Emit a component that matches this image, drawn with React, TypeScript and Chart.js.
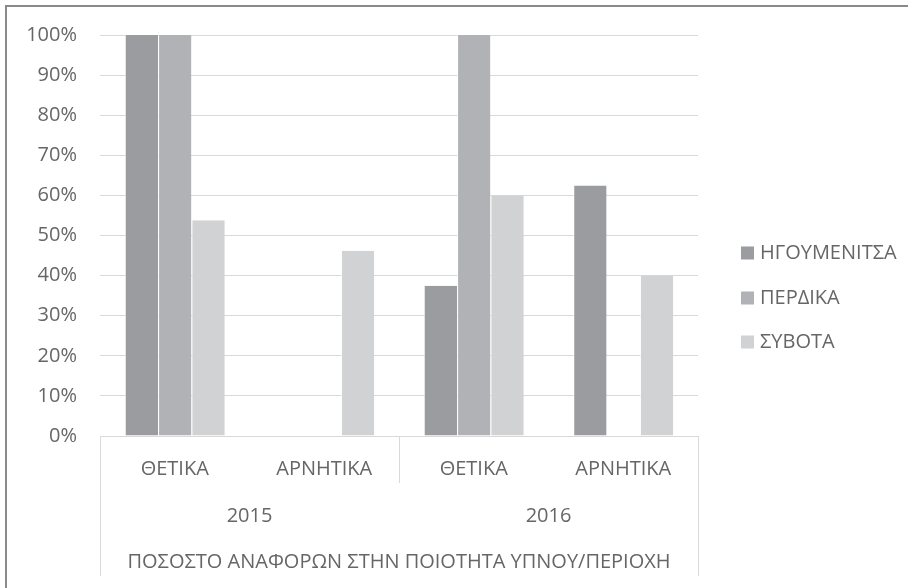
import React, { useEffect, useRef } from "react";
import { Chart, registerables } from "chart.js";

Chart.register(...registerables);

// Two-level category axis: answer type inside each year
const subCategories = ["ΘΕΤΙΚΑ", "ΑΡΝΗΤΙΚΑ", "ΘΕΤΙΚΑ", "ΑΡΝΗΤΙΚΑ"];
const years = ["2015", "2016"];
const axisTitle = "ΠΟΣΟΣΤΟ ΑΝΑΦΟΡΩΝ ΣΤΗΝ ΠΟΙΟΤΗΤΑ ΥΠΝΟΥ/ΠΕΡΙΟΧΗ";

const seriesNames = ["ΗΓΟΥΜΕΝΙΤΣΑ", "ΠΕΡΔΙΚΑ", "ΣΥΒΟΤΑ"];
const igoumenitsa = [100, 0, 37.5, 62.5];
const perdika = [100, 0, 100, 0];
const syvota = [53.8, 46.2, 60, 40];

const yTicks = [0, 10, 20, 30, 40, 50, 60, 70, 80, 90, 100];

const FONT = "'Open Sans', sans-serif";
const TEXT = "#666666";
const LINE = "#d9d9d9";
const COLORS = ["#9b9c9f", "#b1b2b5", "#d1d2d4"];

const multiLevelAxis = {
  id: "multiLevelAxis",
  afterDraw(chart: any) {
    const { ctx, chartArea, scales } = chart;
    const x = scales.x;
    const n = subCategories.length;
    const step = (x.getPixelForValue(n - 1) - x.getPixelForValue(0)) / (n - 1);
    const left = x.getPixelForValue(0) - step / 2;
    const right = x.getPixelForValue(n - 1) + step / 2;
    const base = chartArea.bottom;

    ctx.save();
    ctx.strokeStyle = LINE;
    ctx.lineWidth = 1;
    const vline = (px: number, y2: number) => {
      const xx = Math.round(px) + 0.5;
      ctx.beginPath();
      ctx.moveTo(xx, base);
      ctx.lineTo(xx, y2);
      ctx.stroke();
    };
    vline(left, 576);
    vline(right, 576);
    const perYear = n / years.length;
    for (let k = 1; k < years.length; k++) {
      vline(left + step * perYear * k, 483);
    }

    ctx.fillStyle = TEXT;
    ctx.font = `20px ${FONT}`;
    ctx.textAlign = "center";
    ctx.textBaseline = "middle";
    subCategories.forEach((label, i) => {
      ctx.fillText(label, x.getPixelForValue(i), 469);
    });
    years.forEach((yr, k) => {
      const c = left + step * perYear * (k + 0.5);
      ctx.fillText(yr, c, 516);
    });
    ctx.fillText(axisTitle, (left + right) / 2, 562);

    // outer chart frame
    ctx.strokeStyle = "#8a8a8a";
    ctx.lineWidth = 2;
    ctx.beginPath();
    ctx.moveTo(6, 600);
    ctx.lineTo(6, 6);
    ctx.lineTo(920, 6);
    ctx.stroke();

    // legend built from the datasets
    const ds = chart.data.datasets;
    const rows = [253, 298, 342];
    ds.forEach((d: any, i: number) => {
      const cy = rows[i];
      ctx.fillStyle = d.backgroundColor;
      ctx.fillRect(741, cy - 6.5, 13, 13);
      ctx.fillStyle = TEXT;
      ctx.textAlign = "left";
      ctx.fillText(d.label, 760, cy);
    });
    ctx.restore();
  },
};

export default function App() {
  const ref = useRef<HTMLCanvasElement | null>(null);

  useEffect(() => {
    if (!ref.current) return;
    const series = [igoumenitsa, perdika, syvota];
    const chart = new Chart(ref.current, {
      type: "bar",
      data: {
        labels: subCategories.map((s, i) => `${years[Math.floor(i / 2)]} ${s}`),
        datasets: series.map((vals, i) => ({
          label: seriesNames[i],
          data: vals,
          backgroundColor: COLORS[i],
          borderColor: "rgba(255,255,255,0.7)",
          borderWidth: { left: 1, right: 0, top: 0, bottom: 0 },
          borderSkipped: false,
          categoryPercentage: 0.669,
          barPercentage: 1,
        })),
      },
      options: {
        animation: false,
        responsive: true,
        maintainAspectRatio: false,
        layout: { padding: { left: 0, top: 35, right: 210, bottom: 152 } },
        plugins: {
          legend: { display: false },
          tooltip: { enabled: false },
        },
        scales: {
          x: { display: false },
          y: {
            min: 0,
            max: 100,
            afterBuildTicks: (scale: any) => {
              scale.ticks = yTicks.map((v) => ({ value: v }));
            },
            afterFit: (scale: any) => {
              scale.width = 100;
            },
            ticks: {
              callback: (v: any) => `${v}%`,
              color: TEXT,
              font: { family: FONT, size: 20 },
              padding: 23,
            },
            grid: { color: LINE, lineWidth: 1, drawTicks: false },
            border: { display: false },
          },
        },
      },
      plugins: [multiLevelAxis],
    });
    return () => chart.destroy();
  }, []);

  return (
    <div
      style={{
        position: "fixed",
        left: 0,
        top: 0,
        width: 908,
        height: 588,
        background: "#ffffff",
      }}
    >
      <canvas ref={ref} />
    </div>
  );
}
